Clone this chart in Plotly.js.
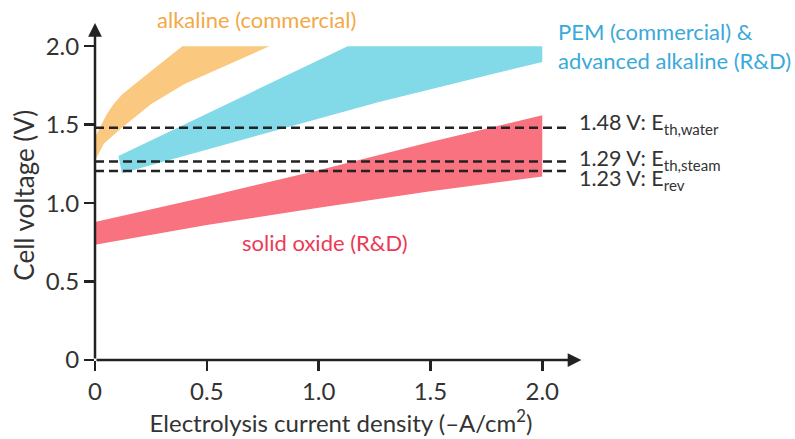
<!DOCTYPE html>
<html>
<head>
<meta charset="utf-8">
<script src="https://cdn.plot.ly/plotly-3.0.1.min.js"></script>
<style>html,body{margin:0;padding:0;background:#fff;}#chart{width:795px;height:439px;}</style>
</head>
<body>
<div id="chart"></div>
<script>
// ---- data ----
var xTickVals = [0, 0.5, 1.0, 1.5, 2.0];
var xTickText = ["0", "0.5", "1.0", "1.5", "2.0"];
var yTickVals = [0, 0.5, 1.0, 1.5, 2.0];
var yTickText = ["0", "0.5", "1.0", "1.5", "2.0"];

// alkaline (commercial) band
var alkUpperX = [0, 0.02, 0.05, 0.08, 0.12, 0.17, 0.39];
var alkUpperV = [1.42, 1.48, 1.56, 1.625, 1.69, 1.75, 2.0];
var alkLowerX = [0, 0.04, 0.12, 0.25, 0.40, 0.78];
var alkLowerV = [1.27, 1.38, 1.48, 1.63, 1.76, 2.0];

// PEM (commercial) & advanced alkaline (R&D) band
var pemUpperX = [0.105, 1.13, 2.0];
var pemUpperV = [1.30, 2.0, 2.0];
var pemLowerX = [0.12, 1.27, 2.0];
var pemLowerV = [1.19, 1.645, 1.90];

// solid oxide (R&D) band
var soUpperX = [0, 0.5, 1.0, 1.5, 2.0];
var soUpperV = [0.88, 1.04, 1.21, 1.39, 1.56];
var soLowerX = [0, 0.5, 1.0, 1.5, 2.0];
var soLowerV = [0.735, 0.86, 0.97, 1.075, 1.17];

// reference voltage lines (as drawn) and their labels
var refV = [1.48, 1.265, 1.205];
var refLabels = ["1.48 V: E<sub>th,water</sub>", "1.29 V: E<sub>th,steam</sub>", "1.23 V: E<sub>rev</sub>"];
var refLineEnd = 2.12;

var bandNames = ["alkaline (commercial)", "PEM (commercial) &amp;<br>advanced alkaline (R&amp;D)", "solid oxide (R&amp;D)"];
var xTitle = 'Electrolysis current density (\u2013A/cm<sup>2</sup>)';
var yTitle = 'Cell voltage (V)';

// ---- build ----
function band(ux, uv, lx, lv, color, name) {
  var xs = ux.slice().concat(lx.slice().reverse());
  var ys = uv.slice().concat(lv.slice().reverse());
  return {x: xs, y: ys, type: 'scatter', mode: 'lines', fill: 'toself',
          fillcolor: color, line: {width: 0}, hoverinfo: 'skip', name: name};
}

var traces = [
  band(alkUpperX, alkUpperV, alkLowerX, alkLowerV, '#FAC87E', 'alkaline'),
  band(pemUpperX, pemUpperV, pemLowerX, pemLowerV, '#82D9E8', 'PEM'),
  band(soUpperX, soUpperV, soLowerX, soLowerV, '#F8727F', 'solid oxide')
];
refV.forEach(function (v) {
  traces.push({x: [0, refLineEnd], y: [v, v], type: 'scatter', mode: 'lines',
    line: {color: '#222', width: 2.5, dash: '9px,5px'}, hoverinfo: 'skip'});
});

var FONT = 'Lato, "Open Sans", sans-serif';
var annotations = [
  // axes with arrowheads
  {x: 2.175, y: 0, ax: 0, ay: 0, xref: 'x', yref: 'y', axref: 'x', ayref: 'y', text: '',
   showarrow: true, arrowhead: 2, arrowsize: 1.1, arrowwidth: 2.5, arrowcolor: '#222'},
  {x: 0, y: 2.148, ax: 0, ay: 0, xref: 'x', yref: 'y', axref: 'x', ayref: 'y', text: '',
   showarrow: true, arrowhead: 2, arrowsize: 1.1, arrowwidth: 2.5, arrowcolor: '#222'},
  // y-axis title
  {x: -0.146, y: 0.466, xref: 'paper', yref: 'paper', text: yTitle, showarrow: false, textangle: -90,
   xanchor: 'center', yanchor: 'middle', font: {family: FONT, size: 26, color: '#333'}},
  // band labels
  {x: 0.724, y: 2.169, xref: 'x', yref: 'y', text: bandNames[0], showarrow: false,
   xanchor: 'center', yanchor: 'middle', font: {family: FONT, size: 22, color: '#F3A947'}},
  {x: 2.063, y: 2.0, xref: 'x', yref: 'y', text: bandNames[1], showarrow: false, align: 'left',
   xanchor: 'left', yanchor: 'middle', font: {family: FONT, size: 22, color: '#3AA9DA'}},
  {x: 1.028, y: 0.748, xref: 'x', yref: 'y', text: bandNames[2], showarrow: false,
   xanchor: 'center', yanchor: 'middle', font: {family: FONT, size: 22, color: '#EC3A55'}}
];
var labelY = [1.508, 1.275, 1.15];
refLabels.forEach(function (t, i) {
  annotations.push({x: 2.154, y: labelY[i], xref: 'x', yref: 'y', text: t, showarrow: false,
    xanchor: 'left', yanchor: 'middle', font: {family: FONT, size: 21.5, color: '#333'}});
});

var layout = {
  width: 795, height: 439,
  margin: {l: 95, r: 207.6, t: 7.25, b: 78.5},
  paper_bgcolor: '#fff', plot_bgcolor: '#fff',
  showlegend: false,
  font: {family: FONT, color: '#333'},
  xaxis: {range: [0, 2.2], tickvals: xTickVals, ticktext: xTickText, ticks: 'outside',
          ticklen: 10, tickwidth: 2.5, tickcolor: '#222', showgrid: false, zeroline: false,
          showline: false, tickfont: {family: FONT, size: 24, color: '#333'},
          title: {text: xTitle, font: {family: FONT, size: 24, color: '#333'}, standoff: 4}},
  yaxis: {range: [0, 2.25], tickvals: yTickVals, ticktext: yTickText, ticks: 'outside',
          ticklen: 10, tickwidth: 2.5, tickcolor: '#222', showgrid: false, zeroline: false,
          showline: false, tickfont: {family: FONT, size: 24, color: '#333'}},
  annotations: annotations
};

Plotly.newPlot('chart', traces, layout, {staticPlot: true, displayModeBar: false});
</script>
</body>
</html>
